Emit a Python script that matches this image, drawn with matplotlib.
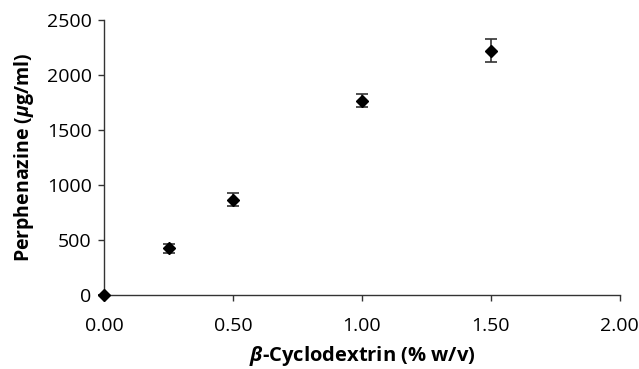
import matplotlib
matplotlib.use('Agg')
import matplotlib.pyplot as plt

plt.rcParams['font.family'] = ['Open Sans', 'DejaVu Sans']
plt.rcParams['mathtext.fontset'] = 'custom'
plt.rcParams['mathtext.it'] = 'Open Sans:italic:bold'
plt.rcParams['mathtext.bf'] = 'Open Sans:bold'

# data
conc = [0.0, 0.25, 0.50, 1.00, 1.50]
perphenazine = [0, 425, 865, 1765, 2220]
err = [0, 40, 60, 60, 105]

xticks = [0.0, 0.5, 1.0, 1.5, 2.0]
yticks = [0, 500, 1000, 1500, 2000, 2500]

fig = plt.figure(figsize=(6.39, 3.69), dpi=100)
ax = fig.add_axes([0.163, 0.2005, 0.807, 0.7455])

ax.errorbar(conc, perphenazine, yerr=err, fmt='D', color='black',
            markersize=6.5, ecolor='#333', elinewidth=1.2, capsize=4,
            capthick=1.2, clip_on=False, zorder=3)

ax.set_xlim(0, 2.0)
ax.set_ylim(0, 2500)
ax.set_xticks(xticks)
ax.set_xticklabels([f'{v:.2f}' for v in xticks])
ax.set_yticks(yticks)
ax.spines[['top', 'right']].set_visible(False)
for sp in ['left', 'bottom']:
    ax.spines[sp].set_color('#333')
    ax.spines[sp].set_linewidth(1.0)
ax.tick_params(direction='out', length=4, width=1, colors='#333',
               labelcolor='black', labelsize=14)
ax.tick_params(axis='x', pad=12)
ax.tick_params(axis='y', pad=5)

ax.set_xlabel(r'$\mathit{\beta}$-Cyclodextrin (% w/v)', fontsize=14.5,
              fontweight='bold', labelpad=6)
ax.set_ylabel(r'Perphenazine ($\mathit{\mu}$g/ml)', fontsize=14,
              fontweight='bold', labelpad=8)

fig.savefig('out.png', dpi=100)
